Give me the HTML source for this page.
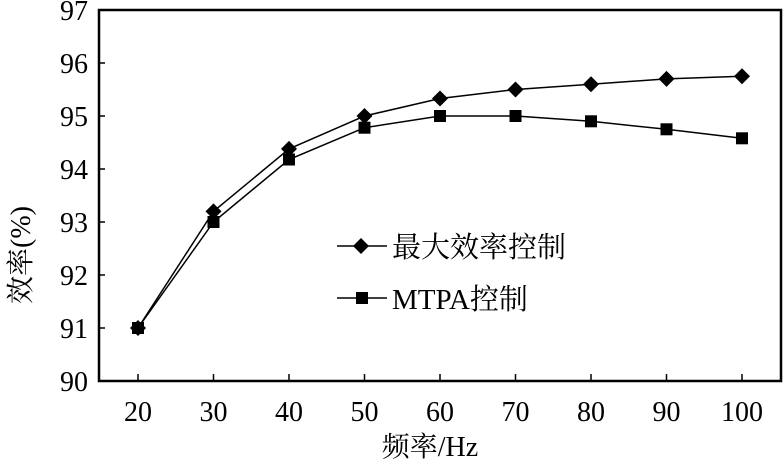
<!DOCTYPE html>
<html><head><meta charset="utf-8"><style>
html,body{margin:0;padding:0;background:#fff;}
svg text{font-family:"Liberation Serif","Noto Serif CJK SC",serif;fill:#000;}
</style></head><body>
<svg width="783" height="463" viewBox="0 0 783 463" xmlns="http://www.w3.org/2000/svg">
<rect x="99" y="10" width="682" height="371" fill="none" stroke="#000" stroke-width="2.5"/>
<g stroke="#000" stroke-width="1.5">
<line x1="99" y1="328" x2="105" y2="328"/><line x1="99" y1="275" x2="105" y2="275"/>
<line x1="99" y1="222" x2="105" y2="222"/><line x1="99" y1="169" x2="105" y2="169"/>
<line x1="99" y1="116" x2="105" y2="116"/><line x1="99" y1="63" x2="105" y2="63"/>
<line x1="138" y1="381" x2="138" y2="374"/><line x1="213.5" y1="381" x2="213.5" y2="374"/>
<line x1="289" y1="381" x2="289" y2="374"/><line x1="364.5" y1="381" x2="364.5" y2="374"/>
<line x1="440" y1="381" x2="440" y2="374"/><line x1="515.5" y1="381" x2="515.5" y2="374"/>
<line x1="591" y1="381" x2="591" y2="374"/><line x1="666.5" y1="381" x2="666.5" y2="374"/>
<line x1="742" y1="381" x2="742" y2="374"/>
</g>
<g font-size="28" text-anchor="end">
<text x="88" y="391">90</text><text x="88" y="338">91</text><text x="88" y="285">92</text>
<text x="88" y="232">93</text><text x="88" y="179">94</text><text x="88" y="126">95</text>
<text x="88" y="73">96</text><text x="88" y="20">97</text>
</g>
<g font-size="28" text-anchor="middle">
<text x="138" y="421">20</text><text x="213.5" y="421">30</text><text x="289" y="421">40</text>
<text x="364.5" y="421">50</text><text x="440" y="421">60</text><text x="515.5" y="421">70</text>
<text x="591" y="421">80</text><text x="666.5" y="421">90</text><text x="742" y="421">100</text>
</g>
<text x="430" y="456" font-size="28" text-anchor="middle">频率/Hz</text>
<text transform="translate(30,255) rotate(-90)" font-size="28" text-anchor="middle">效率(%)</text>
<polyline fill="none" stroke="#000" stroke-width="1.5" points="138,328 213.5,211.4 289,148.9 364.5,116 440,98.5 515.5,89.5 591,84.2 666.5,78.9 742,76.3"/>
<polyline fill="none" stroke="#000" stroke-width="1.5" points="138,328 213.5,222 289,159.5 364.5,127.7 440,116 515.5,116 591,121.3 666.5,129.3 742,138.3"/>
<g fill="#000">
<path d="M138,320l8,8l-8,8l-8,-8z"/><path d="M213.5,203.4l8,8l-8,8l-8,-8z"/><path d="M289,140.9l8,8l-8,8l-8,-8z"/>
<path d="M364.5,108l8,8l-8,8l-8,-8z"/><path d="M440,90.5l8,8l-8,8l-8,-8z"/><path d="M515.5,81.5l8,8l-8,8l-8,-8z"/>
<path d="M591,76.2l8,8l-8,8l-8,-8z"/><path d="M666.5,70.9l8,8l-8,8l-8,-8z"/><path d="M742,68.3l8,8l-8,8l-8,-8z"/>
<rect x="132" y="322" width="12" height="12"/><rect x="207.5" y="216" width="12" height="12"/><rect x="283" y="153.5" width="12" height="12"/>
<rect x="358.5" y="121.7" width="12" height="12"/><rect x="434" y="110" width="12" height="12"/><rect x="509.5" y="110" width="12" height="12"/>
<rect x="585" y="115.3" width="12" height="12"/><rect x="660.5" y="123.3" width="12" height="12"/><rect x="736" y="132.3" width="12" height="12"/>
</g>
<line x1="337" y1="246" x2="387" y2="246" stroke="#000" stroke-width="1.5"/>
<path d="M361,238l8,8l-8,8l-8,-8z" fill="#000"/>
<line x1="337" y1="298" x2="387" y2="298" stroke="#000" stroke-width="1.5"/>
<rect x="356" y="292" width="12" height="12" fill="#000"/>
<text x="392" y="257" font-size="29">最大效率控制</text>
<text x="392" y="309" font-size="29">MTPA控制</text>
</svg>
</body></html>
